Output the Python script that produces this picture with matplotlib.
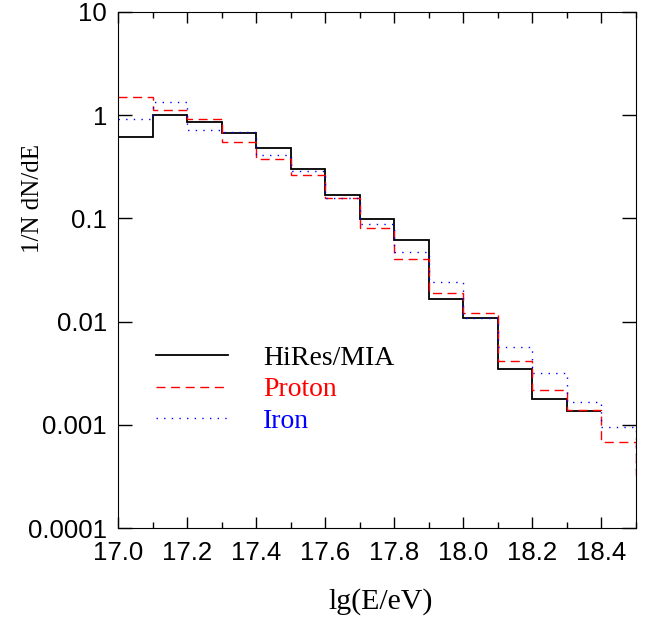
import numpy as np
import matplotlib
matplotlib.use('Agg')
import matplotlib.pyplot as plt
from matplotlib.ticker import FixedLocator, FixedFormatter, MultipleLocator

# bin edges in lg(E/eV)
edges_mia = np.round(np.arange(16.9, 18.41, 0.1), 2)
edges_sim = np.round(np.arange(17.0, 18.61, 0.1), 2)

# 1/N dN/dE
hires_mia = [0.282, 0.616, 1.0, 0.855, 0.674, 0.486, 0.302, 0.168, 0.099, 0.0612,
             0.0166, 0.0108, 0.00351, 0.00176, 0.00137]
proton = [1.50, 1.12, 0.915, 0.547, 0.377, 0.266, 0.156, 0.081, 0.0405, 0.0191,
          0.0121, 0.00418, 0.00218, 0.00139, 0.00068, 0.00033]
iron = [0.915, 1.33, 0.711, 0.69, 0.407, 0.287, 0.157, 0.088, 0.0477, 0.0242,
        0.0108, 0.00565, 0.00315, 0.00168, 0.00095, 0.00035]

ytick_vals = [1e-4, 1e-3, 1e-2, 1e-1, 1, 10]
ytick_text = ['0.0001', '0.001', '0.01', '0.1', '1', '10']
xtick_vals = [17.0, 17.2, 17.4, 17.6, 17.8, 18.0, 18.2, 18.4]

fig = plt.figure(figsize=(6.46, 6.18), dpi=100)
ax = fig.add_axes([0.1827, 0.1456, 0.8018, 0.835])

ax.stairs(hires_mia, edges_mia, baseline=None, color='black', lw=1.3, label='HiRes/MIA')
ax.stairs(proton, edges_sim, baseline=None, color='red', lw=1.0,
          linestyle=(0, (6.5, 4)), label='Proton')
ax.stairs(iron, edges_sim, baseline=None, color='blue', lw=1.0,
          linestyle=(0, (1, 4.5)), label='Iron')

ax.set_yscale('log')
ax.set_xlim(17.0, 18.5)
ax.set_ylim(1e-4, 10)

ax.yaxis.set_major_locator(FixedLocator(ytick_vals))
ax.yaxis.set_major_formatter(FixedFormatter(ytick_text))
ax.yaxis.set_minor_locator(FixedLocator([]))
ax.xaxis.set_major_locator(FixedLocator(xtick_vals))
ax.xaxis.set_major_formatter(FixedFormatter(['%.1f' % v for v in xtick_vals]))
ax.xaxis.set_minor_locator(MultipleLocator(0.1))

ax.tick_params(which='both', direction='in', top=True, right=True, labelsize=18.5)
ax.tick_params(axis='y', which='major', length=10, width=1, pad=8)
ax.tick_params(axis='x', which='major', length=8, width=1, pad=9)
ax.tick_params(axis='x', which='minor', length=4, width=1)
for lab in ax.get_xticklabels() + ax.get_yticklabels():
    lab.set_family('Liberation Sans')

ax.set_xlabel('lg(E/eV)', family='Liberation Serif', fontsize=21.5)
ax.set_ylabel('1/N dN/dE', family='Liberation Serif', fontsize=18)
ax.xaxis.set_label_coords(0.508, -0.116)
ax.yaxis.set_label_coords(-0.143, 0.638)

leg = ax.legend(loc='upper left', bbox_to_anchor=(0.026, 0.402), frameon=False,
                prop={'family': 'Liberation Serif', 'size': 20},
                handlelength=2.59, handletextpad=1.26, labelspacing=0.21,
                labelcolor='linecolor')

fig.savefig('out.png', dpi=100)
